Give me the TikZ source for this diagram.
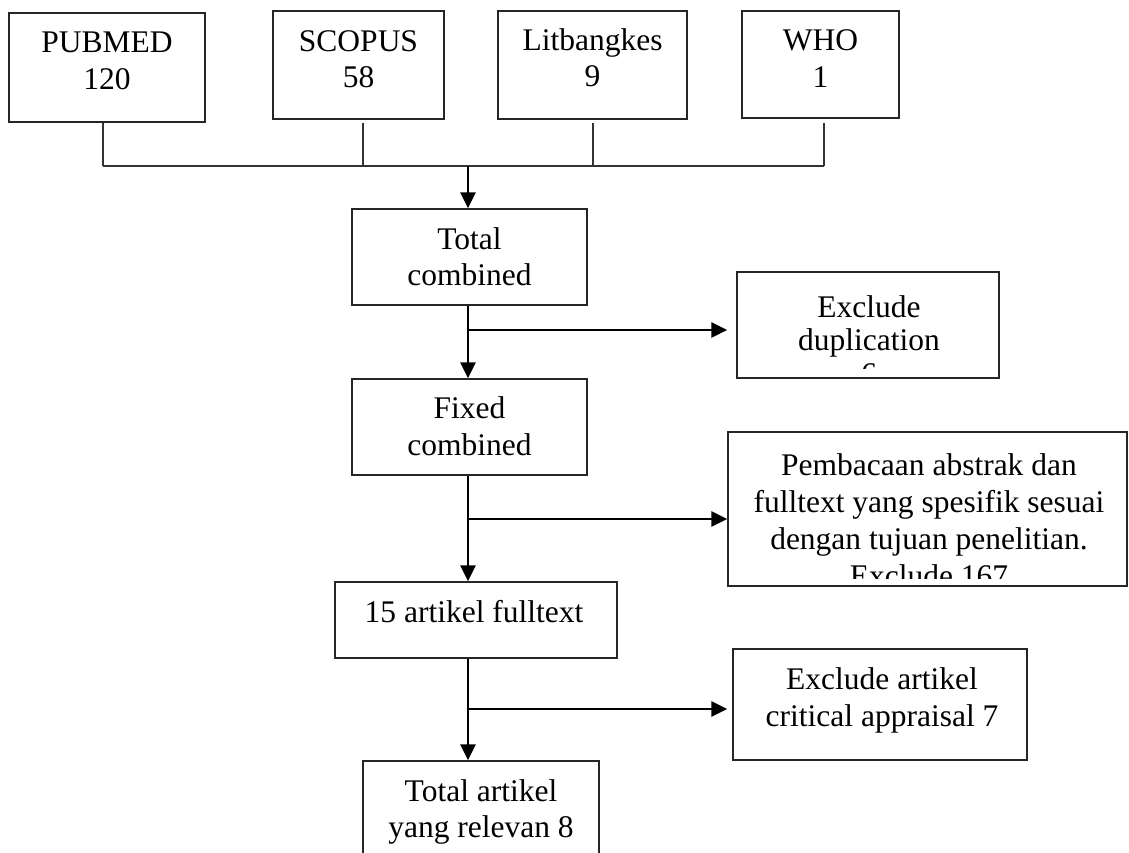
\documentclass[tikz,border=0pt]{standalone}
\usepackage{fontspec}
\setmainfont{Liberation Serif}
\usetikzlibrary{arrows.meta}
\begin{document}
\begin{tikzpicture}[x=1pt,y=-1pt,
  box/.style={draw=black!85, line width=1.4pt, inner sep=0pt, rectangle},
  txt/.style={inner sep=0pt, anchor=base, font=\fontsize{31.5}{37}\selectfont},
  thinline/.style={draw=black!80, line width=1.1pt},
  arr/.style={draw=black, line width=2.8pt, -{Triangle[length=16pt,width=15pt]}}]
\useasboundingbox (0,0) rectangle (1129,853);
\fill[white] (0,0) rectangle (1129,853);
\clip (0,0) rectangle (1129,853);

% boxes
\node[box, minimum width=196pt, minimum height=109pt] (pub) at (107,67.5) {};
\node[box, minimum width=171pt, minimum height=108pt] (sco) at (358.5,65) {};
\node[box, minimum width=189pt, minimum height=108pt] (lit) at (592.5,65) {};
\node[box, minimum width=157pt, minimum height=107pt] (who) at (820.5,64.5) {};
\node[box, minimum width=235pt, minimum height=96pt] (tot) at (469.5,257) {};
\node[box, minimum width=262pt, minimum height=106pt] (dup) at (868,325) {};
\node[box, minimum width=235pt, minimum height=96pt] (fix) at (469.5,427) {};
\node[box, minimum width=399pt, minimum height=154pt] (pem) at (927.5,509) {};
\node[box, minimum width=282pt, minimum height=76pt] (ful) at (476,620) {};
\node[box, minimum width=294pt, minimum height=111pt] (art) at (880,704.5) {};
\node[box, minimum width=236pt, minimum height=139pt] (rel) at (481,830.5) {};

% texts
\node[txt] (pubA) at (107,53) {PUBMED};
\node[txt] (pubB) at (107,90) {120};
\node[txt] (scoA) at (358.5,52) {SCOPUS};
\node[txt] (scoB) at (358.5,88) {58};
\node[txt] (litA) at (592.5,51) {Litbangkes};
\node[txt] (litB) at (592.5,87) {9};
\node[txt] (whoA) at (820.5,51) {WHO};
\node[txt] (whoB) at (820.5,88) {1};
\node[txt] (totA) at (469.5,249) {Total};
\node[txt] (totB) at (469.5,285) {combined};
\begin{scope}
  \clip (737,272) rectangle (999,368);
  \node[txt] (dupA) at (869,317) {Exclude};
  \node[txt] (dupB) at (869,350) {duplication};
  \node[txt] (dupC) at (869,384) {6};
\end{scope}
\node[txt] (fixA) at (469.5,418) {Fixed};
\node[txt] (fixB) at (469.5,455) {combined};
\begin{scope}
  \clip (728,432) rectangle (1127,578);
  \node[txt] (pemA) at (929,475) {Pembacaan abstrak dan};
  \node[txt] (pemB) at (929,512) {fulltext yang spesifik sesuai};
  \node[txt] (pemC) at (929,549) {dengan tujuan penelitian.};
  \node[txt] (pemD) at (929,586) {Exclude 167};
\end{scope}
\node[txt] (fulA) at (474,622) {15 artikel fulltext};
\node[txt] (artA) at (882,689) {Exclude artikel};
\node[txt] (artB) at (882,726) {critical appraisal 7};
\node[txt] (relA) at (481,801) {Total artikel};
\node[txt] (relB) at (481,837) {yang relevan 8};

% top collector lines
\coordinate (sp) at (103,123);
\coordinate (ss) at (363,123);
\coordinate (sl) at (593,123);
\coordinate (sw) at (824,123);
\coordinate (jp) at (103,166);
\coordinate (js) at (363,166);
\coordinate (jl) at (593,166);
\coordinate (jw) at (824,166);
\coordinate (jm) at (468,166);
\draw[thinline] (sp) -- (jp);
\draw[thinline] (ss) -- (js);
\draw[thinline] (sl) -- (jl);
\draw[thinline] (sw) -- (jw);
\draw[thinline] (jp) -- (jw);

% main flow
\draw[arr] (jm) -- (jm |- tot.north);
\draw[arr] (tot.south -| jm) -- (fix.north -| jm);
\draw[arr] (fix.south -| jm) -- (ful.north -| jm);
\draw[arr] (ful.south -| jm) -- (rel.north -| jm);

% branches
\coordinate (b1) at (468,330);
\coordinate (b2) at (468,519);
\coordinate (b3) at (468,709);
\draw[arr, shorten >=9pt] (b1) -- (b1 -| dup.west);
\draw[arr] (b2) -- (b2 -| pem.west);
\draw[arr, shorten >=5pt] (b3) -- (b3 -| art.west);
\end{tikzpicture}
\end{document}
